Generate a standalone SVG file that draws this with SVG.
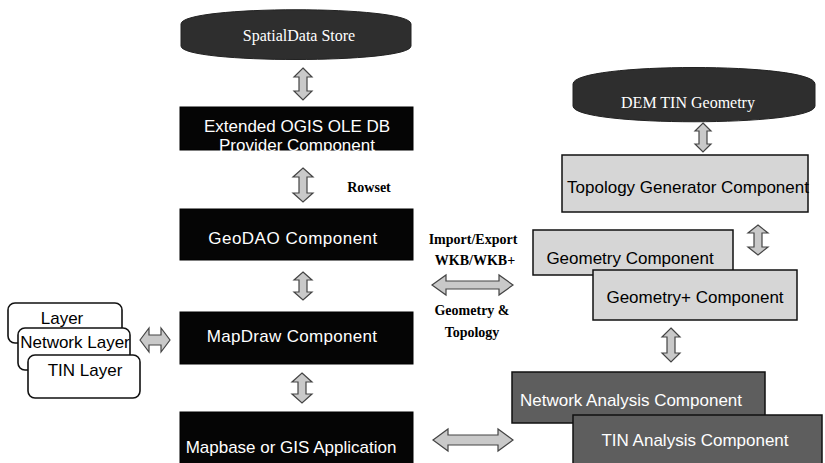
<svg xmlns="http://www.w3.org/2000/svg" width="825" height="463" viewBox="0 0 825 463">
<style>
.blk{fill:#050505;stroke:#000;stroke-width:1}
.lt{fill:#d6d6d6;stroke:#111;stroke-width:1.5}
.dk{fill:#5e5e5e;stroke:#111;stroke-width:1.5}
.cyl{fill:#2e2e2e;stroke:#222;stroke-width:1}
.lay{fill:#fff;stroke:#111;stroke-width:1.6}
.arr{fill:#c9c9c9;stroke:#444;stroke-width:1.2}
.sw{font-family:"Liberation Sans",Arial,sans-serif;font-size:17px;fill:#fff;text-anchor:middle;dominant-baseline:central}
.sb{font-family:"Liberation Sans",Arial,sans-serif;font-size:17px;fill:#000;text-anchor:middle;dominant-baseline:central}
.serw{font-family:"Liberation Serif","Times New Roman",serif;font-size:16px;fill:#fff;text-anchor:middle;dominant-baseline:central}
.serb{font-family:"Liberation Serif","Times New Roman",serif;font-size:14px;font-weight:bold;fill:#000;text-anchor:middle;dominant-baseline:central}
</style>
<rect width="825" height="463" fill="#fff"/>
<g id="spatialdata-store">
<path class="cyl" d="M181,24 C181,5 411,5 411,24 L411,46 C411,64 181,64 181,46 Z"/>
<text class="serw" x="299" y="35">SpatialData  Store</text>
</g>
<g id="ogis-provider">
<rect class="blk" x="180" y="107" width="233" height="43"/>
<text class="sw" x="297" y="126">Extended OGIS OLE DB</text>
<text class="sw" x="297" y="145">Provider Component</text>
</g>
<g id="geodao">
<rect class="blk" x="180" y="209" width="233" height="51"/>
<text class="sw" x="293" y="238" letter-spacing="0.5">GeoDAO Component</text>
</g>
<g id="mapdraw">
<rect class="blk" x="180" y="312" width="233" height="52"/>
<text class="sw" x="292" y="336" letter-spacing="0.3">MapDraw  Component</text>
</g>
<g id="mapbase">
<rect class="blk" x="180" y="412" width="233" height="53"/>
<text class="sw" x="291" y="447" font-size="18">Mapbase or GIS Application</text>
</g>
<g id="layers">
<rect class="lay" x="8" y="303" width="114" height="40" rx="7"/>
<text class="sb" x="62" y="318" font-size="14">Layer</text>
<rect class="lay" x="18" y="328" width="112" height="42" rx="7"/>
<text class="sb" x="75" y="342" font-size="14">Network Layer</text>
<rect class="lay" x="28" y="355" width="112" height="43" rx="7"/>
<text class="sb" x="85" y="370" font-size="14">TIN Layer</text>
</g>
<g id="dem-tin">
<path class="cyl" d="M573,84 C573,62 815,62 815,84 L815,106 C815,127 573,127 573,106 Z"/>
<text class="serw" x="688" y="102">DEM TIN Geometry</text>
</g>
<g id="topology-generator">
<rect class="lt" x="562" y="155" width="246" height="57"/>
<text class="sb" x="688" y="187">Topology Generator Component</text>
</g>
<g id="geometry">
<rect class="lt" x="533" y="230" width="200" height="45"/>
<text class="sb" x="630" y="258">Geometry Component</text>
</g>
<g id="geometry-plus">
<rect class="lt" x="593" y="270" width="204" height="50"/>
<text class="sb" x="695" y="297">Geometry+ Component</text>
</g>
<g id="network-analysis">
<rect class="dk" x="512" y="372" width="253" height="51"/>
<text class="sw" x="631" y="400">Network Analysis Component</text>
</g>
<g id="tin-analysis">
<rect class="dk" x="573" y="415" width="249" height="50"/>
<text class="sw" x="695" y="440">TIN Analysis Component</text>
</g>
<g id="labels">
<text class="serb" x="369" y="187">Rowset</text>
<text class="serb" x="473" y="239">Import/Export</text>
<text class="serb" x="475" y="260">WKB/WKB+</text>
<text class="serb" x="472" y="310">Geometry &amp;</text>
<text class="serb" x="472" y="332">Topology</text>
</g>
<g id="connectors">
<path class="arr" d="M303,68 L312,77 L307,77 L307,91 L312,91 L303,100 L294,91 L299,91 L299,77 L294,77 Z"/>
<path class="arr" d="M303,168 L313,177 L307,177 L307,193 L313,193 L303,202 L293,193 L299,193 L299,177 L293,177 Z"/>
<path class="arr" d="M303,272 L312,280 L307,280 L307,292 L312,292 L303,300 L294,292 L299,292 L299,280 L294,280 Z"/>
<path class="arr" d="M302,373 L312,382 L306,382 L306,394 L312,394 L302,403 L292,394 L298,394 L298,382 L292,382 Z"/>
<path class="arr" d="M703,123 L711,131 L707,131 L707,144 L711,144 L703,152 L695,144 L699,144 L699,131 L695,131 Z"/>
<path class="arr" d="M758,225 L768,233 L762,233 L762,247 L768,247 L758,255 L748,247 L754,247 L754,233 L748,233 Z"/>
<path class="arr" d="M671,328 L680,337 L675,337 L675,353 L680,353 L671,362 L662,353 L667,353 L667,337 L662,337 Z"/>
<path class="arr" d="M140,340 L149,328 L149,335 L161,335 L161,328 L170,340 L161,352 L161,345 L149,345 L149,352 Z"/>
<path class="arr" d="M432,285 L446,275 L446,281 L499,281 L499,275 L513,285 L499,295 L499,289 L446,289 L446,295 Z"/>
<path class="arr" d="M433,440 L448,429 L448,435 L498,435 L498,429 L513,440 L498,451 L498,445 L448,445 L448,451 Z"/>
</g>
</svg>
